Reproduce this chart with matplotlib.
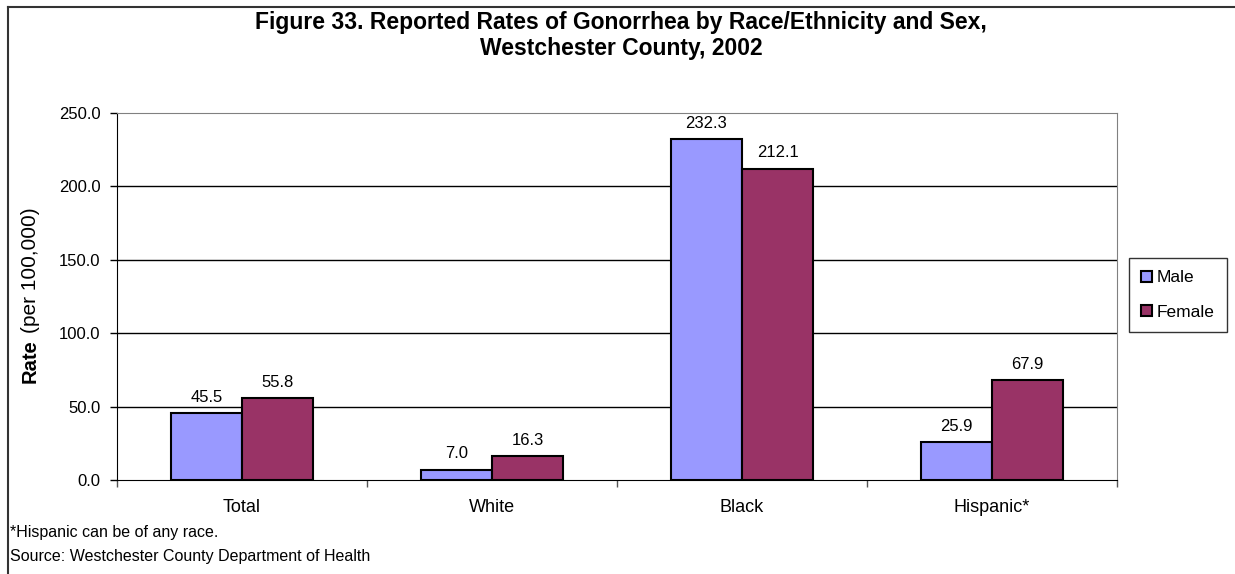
import numpy as np
import matplotlib.pyplot as plt
from matplotlib.lines import Line2D
from matplotlib.patches import Patch

plt.rcParams['font.family'] = ['Liberation Sans', 'DejaVu Sans']

categories = ["Total", "White", "Black", "Hispanic*"]
male = [45.5, 7.0, 232.3, 25.9]
female = [55.8, 16.3, 212.1, 67.9]
yticks = [0, 50, 100, 150, 200, 250]

male_color = "#9999FF"
female_color = "#993366"

fig = plt.figure(figsize=(12.35, 5.74), dpi=100)
ax = fig.add_axes([117/1235, 94/574, 1000/1235, 367/574])

x = np.arange(len(categories)) + 0.5
w = 0.284
bm = ax.bar(x - w/2, male, w, color=male_color, edgecolor="black", linewidth=1.5, zorder=3)
bf = ax.bar(x + w/2, female, w, color=female_color, edgecolor="black", linewidth=1.5, zorder=3)

for rects, vals in ((bm, male), (bf, female)):
    for r, v in zip(rects, vals):
        ax.annotate("%.1f" % v, (r.get_x() + r.get_width()/2, v), xytext=(0, 6),
                    textcoords="offset points", ha="center", va="bottom", fontsize=12)

ax.set_xlim(0, 4)
ax.set_ylim(0, 250)
ax.set_yticks(yticks)
ax.set_yticklabels(["%.1f" % t for t in yticks], fontsize=12)
ax.set_xticks(np.arange(5))
ax.set_xticklabels([])
ax.set_xticks(x, minor=True)
ax.set_xticklabels(categories, minor=True, fontsize=13)
ax.tick_params(axis="x", which="minor", length=0, pad=14)
ax.tick_params(axis="x", which="major", length=5, width=1, color="#555555")
ax.tick_params(axis="y", length=5, width=1, pad=7)

for t in yticks[1:-1]:
    ax.axhline(t, color="black", linewidth=1, zorder=1)
ax.spines["top"].set_color("#808080")
ax.spines["right"].set_color("#808080")
ax.spines["left"].set_color("black")
ax.spines["bottom"].set_color("black")

# y label: bold "Rate" followed by normal "(per 100,000)"
r1 = fig.text(30/1235, 1 - 383/574, "Rate", rotation=90, fontsize=14.5, fontweight="bold",
              ha="center", va="bottom")
renderer = fig.canvas.get_renderer()
bb = r1.get_window_extent(renderer)
fig.text(30/1235, (bb.y1 + 6) / fig.bbox.height, "(per 100,000)", rotation=90, fontsize=15,
         ha="center", va="bottom")

fig.text(621/1235, 1 - 22/574, "Figure 33. Reported Rates of Gonorrhea by Race/Ethnicity and Sex,",
         fontsize=16.5, fontweight="bold", ha="center", va="center")
fig.text(621/1235, 1 - 49/574, "Westchester County, 2002",
         fontsize=16.5, fontweight="bold", ha="center", va="center")

fig.text(10/1235, 1 - 532/574, "*Hispanic can be of any race.", fontsize=11.5, va="center")
fig.text(10/1235, 1 - 557/574, "Source: Westchester County Department of Health", fontsize=11.5, va="center")

# outer chart frame
fig.add_artist(Line2D([8/1235, 8/1235], [0, 1 - 7/574], color="#333333", linewidth=1.5))
fig.add_artist(Line2D([8/1235, 1], [1 - 7/574, 1 - 7/574], color="#333333", linewidth=1.5))

handles = [Patch(facecolor=male_color, edgecolor="black", linewidth=1.5, label="Male"),
           Patch(facecolor=female_color, edgecolor="black", linewidth=1.5, label="Female")]
leg = fig.legend(handles=handles, loc="center", bbox_to_anchor=(1178/1235, 1 - 295/574),
                 fontsize=12.5, frameon=True, fancybox=False, handlelength=0.6, handleheight=0.6,
                 handletextpad=0.3, labelspacing=1.1, borderpad=0.7, borderaxespad=0)
leg.get_frame().set_edgecolor("black")
leg.get_frame().set_linewidth(1)

fig.savefig("out.png", dpi=100)
